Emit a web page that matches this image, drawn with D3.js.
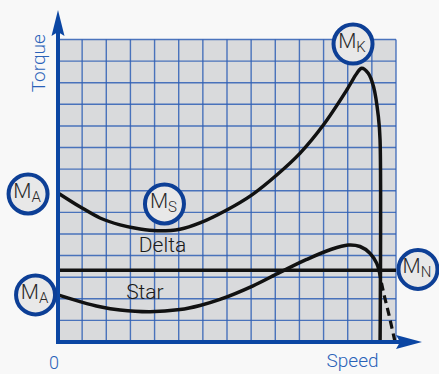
<!DOCTYPE html>
<html>
<head>
<meta charset="utf-8">
<script src="https://cdn.jsdelivr.net/npm/d3@7"></script>
<style>
  html, body { margin: 0; padding: 0; background: #f8f8f8; }
  svg { display: block; }
</style>
</head>
<body>
<div id="chart"></div>
<script>
// grid units: speed 0..14, torque 0..14
const gridTicks = d3.range(0, 15);

// Delta torque curve [speed, torque]
const deltaCurve = [
  [0, 6.90], [0.91, 6.26], [1.74, 5.74], [2.57, 5.42], [3.40, 5.23],
  [4.10, 5.15], [5.05, 5.22], [5.88, 5.51], [6.99, 6.11], [8.02, 6.80],
  [9.06, 7.73], [10.02, 8.73], [10.99, 10.04], [11.96, 11.66], [12.38, 12.44],
  [12.58, 12.67], [12.85, 12.44], [13.07, 11.82], [13.27, 10.43], [13.34, 9.35],
  [13.34, 0]
];

// Star torque curve [speed, torque]
const starCurve = [
  [0, 2.18], [0.91, 1.87], [1.74, 1.63], [2.57, 1.48], [3.81, 1.40],
  [5.05, 1.50], [5.88, 1.69], [6.71, 1.97], [8.08, 2.60], [9.19, 3.22],
  [10.30, 3.82], [11.27, 4.27], [12.02, 4.49], [12.51, 4.42], [12.92, 4.11],
  [13.20, 3.64], [13.29, 3.33]
];
const starDashed = [[13.29, 3.33], [13.46, 2.41], [13.71, 1.25], [13.96, 0]];

const ratedTorque = 3.32;

// circle labels: main letter, subscript, position in grid units
const markers = [
  { main: "M", sub: "A", at: [-1.24, 6.85] },
  { main: "M", sub: "A", at: [-0.93, 2.18] },
  { main: "M", sub: "S", at: [4.41, 6.39] },
  { main: "M", sub: "K", at: [12.22, 13.79] },
  { main: "M", sub: "N", at: [14.91, 3.36] }
];

const curveLabels = [
  { text: "Delta", at: [4.33, 4.15] },
  { text: "Star", at: [3.6, 1.98] }
];

const width = 439, height = 374;
const blue = "#0b46a3", labelBlue = "#2a62b8";
const font = "Roboto, 'Liberation Sans', Arial, sans-serif";

const x = d3.scaleLinear().domain([0, 14]).range([58, 396]);
const y = d3.scaleLinear().domain([0, 14]).range([342, 39.5]);

const svg = d3.select("#chart").append("svg")
  .attr("width", width)
  .attr("height", height);

// grid
svg.append("rect")
  .attr("x", x(0)).attr("y", y(14))
  .attr("width", x(14) - x(0)).attr("height", y(0) - y(14))
  .attr("fill", "#d9dadc");

svg.append("g").selectAll("line")
  .data(gridTicks)
  .enter().append("line")
  .attr("x1", d => x(d)).attr("x2", d => x(d))
  .attr("y1", y(0)).attr("y2", y(14))
  .attr("stroke", "#2f5fb5").attr("stroke-width", 1.4).attr("stroke-opacity", 0.85);

svg.append("g").selectAll("line")
  .data(gridTicks)
  .enter().append("line")
  .attr("x1", x(0)).attr("x2", x(14))
  .attr("y1", d => y(d)).attr("y2", d => y(d))
  .attr("stroke", "#2f5fb5").attr("stroke-width", 1.4).attr("stroke-opacity", 0.85);

// curves
const line = d3.line()
  .x(d => x(d[0]))
  .y(d => y(d[1]))
  .curve(d3.curveCatmullRom.alpha(0.5));

svg.append("path")
  .attr("d", line(deltaCurve))
  .attr("fill", "none").attr("stroke", "#111").attr("stroke-width", 3.5);

svg.append("line")
  .attr("x1", x(0)).attr("x2", x(14))
  .attr("y1", y(ratedTorque)).attr("y2", y(ratedTorque))
  .attr("stroke", "#111").attr("stroke-width", 3.5);

svg.append("path")
  .attr("d", line(starCurve))
  .attr("fill", "none").attr("stroke", "#111").attr("stroke-width", 3.5);

svg.append("path")
  .attr("d", line(starDashed))
  .attr("fill", "none").attr("stroke", "#111").attr("stroke-width", 3.2)
  .attr("stroke-dasharray", "8,5");

// axes with arrows
svg.append("line")
  .attr("x1", x(0)).attr("x2", x(0))
  .attr("y1", y(0) + 2).attr("y2", 30)
  .attr("stroke", blue).attr("stroke-width", 4);
svg.append("path")
  .attr("d", `M${x(0)},10 L${x(0) + 6.5},36 L${x(0)},32 L${x(0) - 6.5},36 Z`)
  .attr("fill", blue);

svg.append("line")
  .attr("x1", x(0) - 2).attr("x2", x(14) + 4)
  .attr("y1", y(0)).attr("y2", y(0))
  .attr("stroke", blue).attr("stroke-width", 4);
svg.append("path")
  .attr("d", `M${x(14) + 26},${y(0)} L${x(14)},${y(0) - 7} L${x(14) + 4},${y(0)} L${x(14)},${y(0) + 7} Z`)
  .attr("fill", blue);

// axis labels
svg.append("text")
  .attr("transform", `translate(45,${y(12.9)}) rotate(-90)`)
  .attr("text-anchor", "middle")
  .attr("font-family", font).attr("font-size", 19).attr("font-weight", 300)
  .attr("fill", labelBlue)
  .text("Torque");

svg.append("text")
  .attr("x", x(0) - 4).attr("y", 369)
  .attr("text-anchor", "middle")
  .attr("font-family", font).attr("font-size", 18).attr("font-weight", 300)
  .attr("fill", labelBlue)
  .text("0");

svg.append("text")
  .attr("x", x(12.2)).attr("y", 367)
  .attr("text-anchor", "middle")
  .attr("font-family", font).attr("font-size", 19).attr("font-weight", 300)
  .attr("fill", labelBlue)
  .text("Speed");

// curve labels
svg.selectAll(".curve-label")
  .data(curveLabels)
  .enter().append("text")
  .attr("class", "curve-label")
  .attr("x", d => x(d.at[0])).attr("y", d => y(d.at[1]))
  .attr("text-anchor", "middle")
  .attr("font-family", font).attr("font-size", 21).attr("font-weight", 300)
  .attr("fill", "#1a1a1a")
  .text(d => d.text);

// circle markers
const mk = svg.selectAll(".marker")
  .data(markers)
  .enter().append("g")
  .attr("class", "marker")
  .attr("transform", d => `translate(${x(d.at[0])},${y(d.at[1])})`);

mk.append("circle")
  .attr("r", 19.5)
  .attr("fill", "#e8e8e8")
  .attr("stroke", "#0d3f96").attr("stroke-width", 4);

const t = mk.append("text")
  .attr("x", -1).attr("y", 4)
  .attr("text-anchor", "middle")
  .attr("font-family", font).attr("font-weight", 300)
  .attr("fill", "#2a2a2a");
t.append("tspan").attr("font-size", 21).text(d => d.main);
t.append("tspan").attr("font-size", 15).attr("dy", 4).text(d => d.sub);
</script>
</body>
</html>
